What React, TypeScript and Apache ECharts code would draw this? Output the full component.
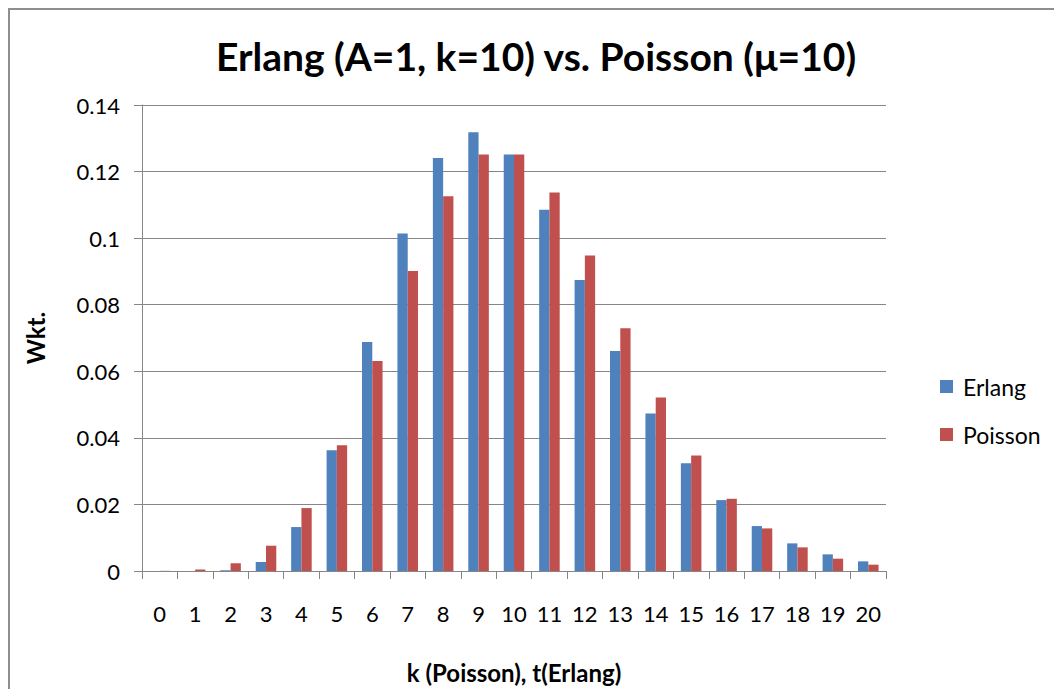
import React, { useEffect, useRef } from "react";
import * as echarts from "echarts";

// Category labels: k for Poisson, t for Erlang
const categories: string[] = [
  "0", "1", "2", "3", "4", "5", "6", "7", "8", "9", "10",
  "11", "12", "13", "14", "15", "16", "17", "18", "19", "20",
];

// Erlang density (A=1, k=10) at t = 0..20
const erlangValues: number[] = [
  0, 0.000001, 0.00019, 0.0027, 0.0132, 0.0363, 0.0688, 0.1014, 0.1241, 0.1318, 0.1251,
  0.1085, 0.0874, 0.0661, 0.0473, 0.0324, 0.0213, 0.0135, 0.0083, 0.005, 0.0029,
];

// Poisson probabilities (mu=10) at k = 0..20
const poissonValues: number[] = [
  0.00005, 0.00045, 0.0023, 0.0076, 0.0189, 0.0378, 0.0631, 0.0901, 0.1126, 0.1251, 0.1251,
  0.1137, 0.0948, 0.0729, 0.0521, 0.0347, 0.0217, 0.0128, 0.0071, 0.0037, 0.0019,
];

const FONT = "Lato, 'Open Sans', sans-serif";
const AXIS_GRAY = "#868686";

export default function App() {
  const ref = useRef<HTMLDivElement>(null);

  useEffect(() => {
    if (!ref.current) return;
    const chart = echarts.init(ref.current, undefined, { renderer: "svg" });
    chart.setOption({
      animation: false,
      backgroundColor: "#ffffff",
      textStyle: { fontFamily: FONT },
      title: {
        text: "Erlang (A=1, k=10) vs. Poisson (μ=10)",
        left: "center",
        top: 21,
        textStyle: {
          fontFamily: FONT,
          fontSize: 39,
          fontWeight: "bold",
          color: "#000000",
        },
      },
      legend: {
        orient: "vertical",
        left: 925,
        top: 360,
        itemWidth: 13,
        itemHeight: 13,
        itemGap: 25,
        icon: "rect",
        textStyle: { fontFamily: FONT, fontSize: 23, color: "#000000", padding: [0, 0, 0, 5] },
        data: ["Erlang", "Poisson"],
      },
      grid: { left: 132, top: 95, right: 176, bottom: 107, containLabel: false },
      xAxis: {
        type: "category",
        data: categories,
        boundaryGap: true,
        name: "k (Poisson), t(Erlang)",
        nameLocation: "middle",
        nameGap: 101,
        nameTextStyle: {
          fontFamily: FONT,
          fontSize: 24,
          fontWeight: "bold",
          color: "#000000",
          verticalAlign: "middle",
        },
        axisLine: { show: true, lineStyle: { color: AXIS_GRAY, width: 1 } },
        axisTick: { show: true, length: 8, alignWithLabel: false, lineStyle: { color: AXIS_GRAY } },
        axisLabel: { fontFamily: FONT, fontSize: 22, color: "#000000", margin: 31 },
        splitLine: { show: false },
      },
      yAxis: {
        type: "value",
        min: 0,
        max: 0.14,
        interval: 0.02,
        name: "Wkt.",
        nameLocation: "middle",
        nameGap: 107,
        nameRotate: 90,
        nameTextStyle: {
          fontFamily: FONT,
          fontSize: 24,
          fontWeight: "bold",
          color: "#000000",
          verticalAlign: "middle",
        },
        axisLine: { show: true, lineStyle: { color: AXIS_GRAY, width: 1 } },
        axisTick: { show: true, inside: false, length: 8, lineStyle: { color: AXIS_GRAY } },
        axisLabel: {
          fontFamily: FONT,
          fontSize: 22,
          color: "#000000",
          margin: 22,
          padding: [7, 0, 0, 0],
          formatter: (v: number) => String(+v.toFixed(2)),
        },
        splitLine: { show: true, lineStyle: { color: AXIS_GRAY, width: 1 } },
      },
      series: [
        {
          name: "Erlang",
          type: "bar",
          data: erlangValues,
          barGap: "0%",
          barCategoryGap: "42%",
          itemStyle: { color: "#4F81BD" },
        },
        {
          name: "Poisson",
          type: "bar",
          data: poissonValues,
          barGap: "0%",
          barCategoryGap: "42%",
          itemStyle: { color: "#C0504D" },
        },
      ],
    });
    return () => chart.dispose();
  }, []);

  return (
    <div
      style={{
        width: 1052,
        height: 679,
        borderLeft: "2px solid #8e8e8e",
        borderTop: "2px solid #8e8e8e",
        overflow: "hidden",
      }}
    >
      <div ref={ref} style={{ width: 1052, height: 679 }} />
    </div>
  );
}
